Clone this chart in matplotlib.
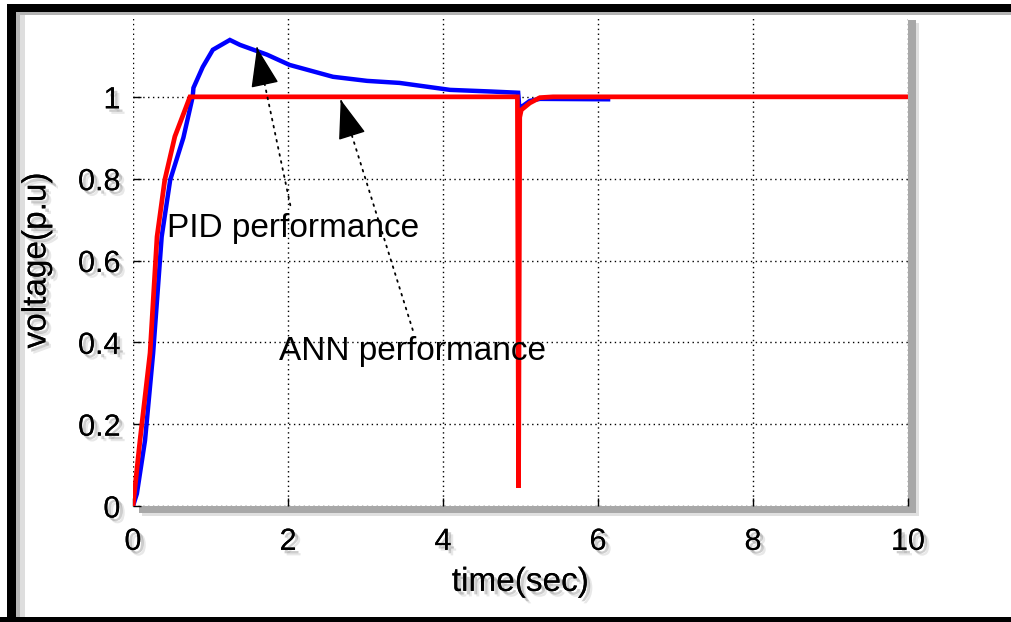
#!/usr/bin/env python3
"""PID vs ANN voltage response (p.u) over 10 s, with a load step at t = 5 s."""
import matplotlib

matplotlib.use("Agg")
import matplotlib.pyplot as plt
import matplotlib.patheffects as pe
from matplotlib.patches import Rectangle

plt.rcParams["font.family"] = ["Liberation Sans", "DejaVu Sans"]

# PID controller response (blue)
pid_t = [0.0, 0.05, 0.155, 0.26, 0.37, 0.48, 0.65, 0.77, 0.78, 0.90, 1.03, 1.25, 1.38,
         1.73, 2.02, 2.58, 3.02, 3.44, 4.09, 4.62, 4.97, 4.99, 5.01, 5.12, 5.25, 6.13]
pid_v = [0.0, 0.03, 0.16, 0.374, 0.658, 0.797, 0.90, 1.0, 1.022, 1.073, 1.115, 1.139, 1.127,
         1.103, 1.078, 1.049, 1.039, 1.034, 1.017, 1.013, 1.01, 0.96, 0.975, 0.99, 0.995, 0.994]

# ANN controller response (red)
ann_t = [0.0, 0.09, 0.22, 0.31, 0.41, 0.54, 0.735, 4.96, 4.975, 4.99, 5.01, 5.12, 5.25, 5.42, 10.0]
ann_v = [0.0, 0.16, 0.374, 0.658, 0.797, 0.903, 1.0, 1.0, 0.044, 0.95, 0.968, 0.985, 0.998, 1.0, 1.0]

xticks = [0, 2, 4, 6, 8, 10]
yticks = [0, 0.2, 0.4, 0.6, 0.8, 1]

# (label, arrow tip, text centre, arrow tail)
notes = [
    ("PID performance", (1.60, 1.12), (2.06, 0.677), (2.03, 0.735)),
    ("ANN performance", (2.68, 0.993), (3.60, 0.377), (3.61, 0.43)),
]

W, H = 1011, 622
fig = plt.figure(figsize=(W / 100, H / 100), dpi=100)
fig.patch.set_facecolor("white")

ax_l, ax_r, ax_t, ax_b = 133, 908, 15, 506
ax = fig.add_axes([ax_l / W, 1 - ax_b / H, (ax_r - ax_l) / W, (ax_b - ax_t) / H])

# drop shadow behind the axes box
fig.patches.append(Rectangle(((ax_l + 6) / W, 1 - (ax_b + 7) / H), (ax_r - ax_l + 2) / W,
                             (ax_b - ax_t + 2) / H, transform=fig.transFigure,
                             facecolor="0.66", edgecolor="none", zorder=-2))
fig.patches.append(Rectangle(((ax_l + 9) / W, 1 - (ax_b + 10) / H), (ax_r - ax_l + 2) / W,
                             (ax_b - ax_t + 2) / H, transform=fig.transFigure,
                             facecolor="0.88", edgecolor="none", zorder=-3))

# black frame with soft inner shadow
for x0, y0, w, h, c in [(7, 4, W - 7, 8, "black"), (7, 4, 9, H - 4, "black"), (0, 617, W, 5, "black"),
                        (16, 12, W - 16, 3, "0.7"), (16, 12, 4, 605, "0.72"),
                        (20, 15, 5, 602, "0.87")]:
    fig.patches.append(Rectangle((x0 / W, 1 - (y0 + h) / H), w / W, h / H,
                                 transform=fig.transFigure, facecolor=c,
                                 edgecolor="none", zorder=3 if c == "black" else -1))

ax.set_facecolor("white")
ax.plot(pid_t, pid_v, color="#0000ff", lw=3.2, solid_joinstyle="miter", zorder=3)
ax.plot(ann_t, ann_v, color="#ff0000", lw=3.4, solid_joinstyle="miter", zorder=4)

ax.set_xlim(0, 10)
ax.set_ylim(0, 1.2)
ax.set_xticks(xticks)
ax.set_yticks(yticks)
ax.set_xticklabels([str(v) for v in xticks])
ax.set_yticklabels(["0", "0.2", "0.4", "0.6", "0.8", "1"])
ax.grid(True, color="black", lw=1.0, ls=(0, (1, 2.5)))
for s in ax.spines.values():
    s.set_visible(False)
ax.tick_params(direction="in", length=6, width=1, labelsize=22)
ax.tick_params(axis="x", pad=15)
ax.tick_params(axis="y", pad=9)

shadow = [pe.withSimplePatchShadow(offset=(4, -4), shadow_rgbFace="0.5", alpha=0.18),
          pe.withSimplePatchShadow(offset=(2.5, -2.5), shadow_rgbFace="0.45", alpha=0.35)]
ax.set_xlabel("time(sec)", fontsize=24)
ax.set_ylabel("voltage(p.u)", fontsize=24)
ax.xaxis.set_label_coords(0.5, -0.124)
ax.yaxis.set_label_coords(-0.104, 0.5)
for t in ax.get_xticklabels() + ax.get_yticklabels() + [ax.xaxis.label, ax.yaxis.label]:
    t.set_path_effects(shadow)

for label, tip, txt, tail in notes:
    ax.text(txt[0], txt[1], label, fontsize=24, ha="center", va="center", zorder=5)
    ax.annotate("", xy=tip, xytext=tail,
                arrowprops=dict(arrowstyle="-", color="black", lw=1.3, ls=(0, (1, 3)),
                                shrinkA=0, shrinkB=0), zorder=5)
    back = (tip[0] + 0.15 * (tail[0] - tip[0]), tip[1] + 0.15 * (tail[1] - tip[1]))
    ax.annotate("", xy=tip, xytext=back,
                arrowprops=dict(arrowstyle="-|>,head_length=1.4,head_width=0.5",
                                color="black", lw=1, shrinkA=0, shrinkB=0,
                                mutation_scale=18), zorder=6)

fig.savefig("out.png", dpi=100)
